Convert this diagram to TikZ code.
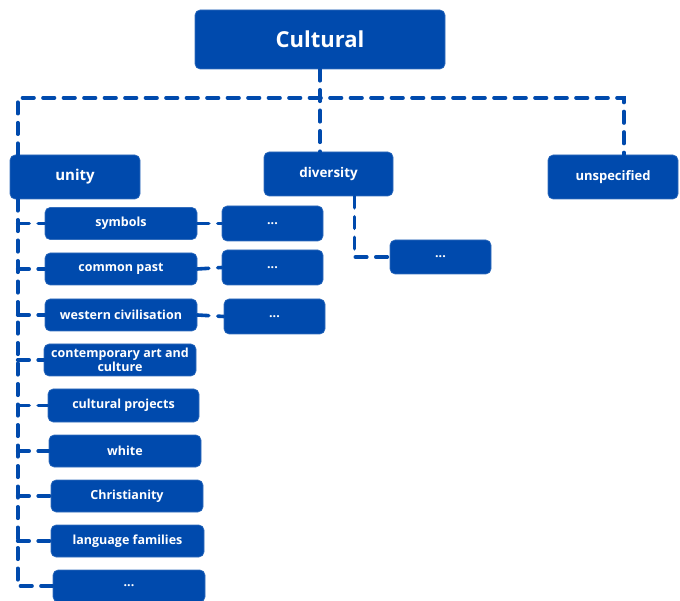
\documentclass[tikz,border=0pt]{standalone}
\usepackage{fontspec}
\setmainfont{Open Sans}
\usetikzlibrary{calc}
\definecolor{boxblue}{RGB}{0,74,173}
\begin{document}
\begin{tikzpicture}[x=1pt,y=-1pt,
  box/.style={draw=boxblue!80!white, line width=0.6pt, fill=boxblue, rounded corners=5pt,
    text=white, font=\bfseries\fontsize{12.5}{12.5}\selectfont, align=center, inner sep=0pt},
  link/.style={draw=boxblue, line width=3.6pt, line cap=round, dash pattern=on 11.5pt off 9pt}]
\useasboundingbox (0,0) rectangle (680,601);

% top level
\node[box, minimum width=250, minimum height=59, font=\bfseries\fontsize{22}{22}\selectfont] (cult) at (320,39.5) {Cultural};
\node[box, minimum width=130, minimum height=44, font=\bfseries\fontsize{15}{15}\selectfont] (unity) at (75,177) {unity};
\node[box, minimum width=129, minimum height=44, font=\bfseries\fontsize{13.4}{13.4}\selectfont] (div) at (328.5,174) {diversity};
\node[box, minimum width=130, minimum height=44, font=\bfseries\fontsize{13}{13}\selectfont] (unsp) at (613,177) {unspecified};

% children of unity
\node[box, minimum width=152, minimum height=32] (sym) at (121,223.5) {symbols};
\node[box, minimum width=152, minimum height=32] (past) at (121,269) {common past};
\node[box, minimum width=152, minimum height=32] (west) at (121,315) {western civilisation};
\node[box, minimum width=152, minimum height=32, font=\bfseries\fontsize{12.5}{12}\selectfont] (art) at (120,360) {contemporary art and\\culture};
\node[box, minimum width=151, minimum height=33] (proj) at (123.5,405.5) {cultural projects};
\node[box, minimum width=152, minimum height=32] (white) at (125,451) {white};
\node[box, minimum width=152, minimum height=32] (chr) at (127,496) {Christianity};
\node[box, minimum width=153, minimum height=32] (lang) at (127.5,541) {language families};
\node[box, minimum width=152, minimum height=32] (udots) at (129,586) {...};

% further boxes
\node[box, minimum width=101, minimum height=35] (d1) at (272.5,223.5) {...};
\node[box, minimum width=101, minimum height=35] (d2) at (272.5,267.5) {...};
\node[box, minimum width=101, minimum height=35] (d3) at (274.5,316.5) {...};
\node[box, minimum width=101, minimum height=34] (d4) at (440.5,257) {...};

% connectors from the root
\coordinate (bus) at (cult.south |- 0,98);
\draw[link] (cult.south) -- (cult.south |- div.north);
\draw[link] ($(unity.north west)+(8,0)$) |- (bus) -| ($(unsp.north)+(11,0)$);

% spine under unity
\coordinate (sp) at ($(unity.south west)+(8,0)$);
\draw[link] (sp) -- (sp |- udots.west) -- (udots.west);
\foreach \c in {sym,past,west,art,proj,white,chr,lang}
  \draw[link] (sp |- \c.west) -- (\c.west);

% side links
\draw[link] (sym.east) -- (d1.west);
\draw[link] (past.east) -- (d2.west);
\draw[link] (west.east) -- (d3.west);
\draw[link] ($(div.south)+(26,0)$) |- (d4.west);
\end{tikzpicture}
\end{document}
